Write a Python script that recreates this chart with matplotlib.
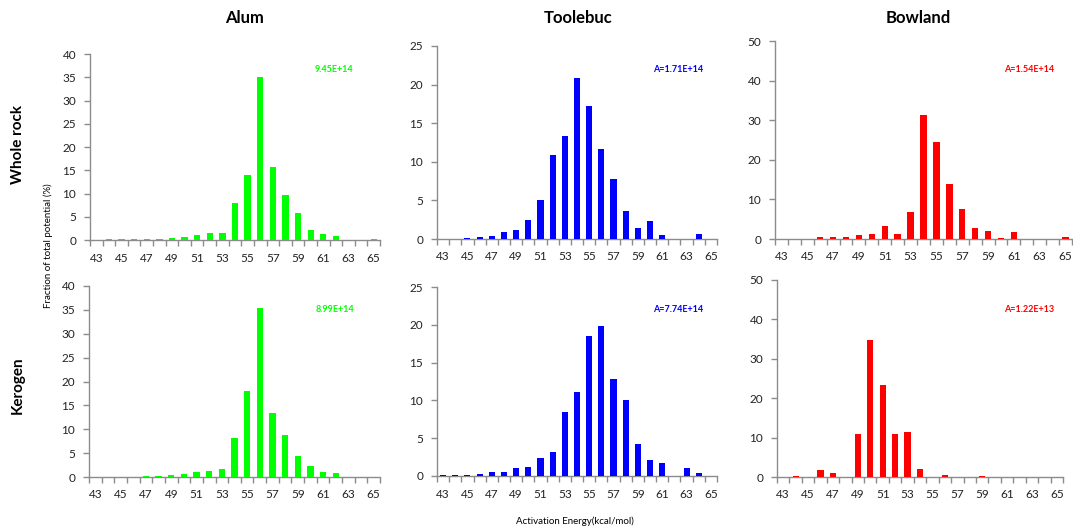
import matplotlib
matplotlib.use("Agg")
import matplotlib.pyplot as plt
import numpy as np

energies = list(range(43, 66))
tick_labels = [str(e) if (e - 43) % 2 == 0 else "" for e in energies]

alum_whole = [0, 0.2, 0.2, 0.2, 0.2, 0.2, 0.5, 0.7, 1.0, 1.4, 1.4, 8.0, 14.0, 35.0,
              15.8, 9.7, 5.7, 2.2, 1.2, 0.9, 0, 0, 0.2]
toolebuc_whole = [0, 0, 0.15, 0.3, 0.45, 0.95, 1.2, 2.5, 5.1, 10.9, 13.3, 20.8, 17.2,
                  11.6, 7.8, 3.6, 1.4, 2.3, 0.5, 0, 0, 0.7, 0]
bowland_whole = [0, 0, 0, 0.6, 0.6, 0.6, 0.9, 1.2, 3.2, 1.2, 6.7, 31.2, 24.4, 13.8,
                 7.7, 2.9, 1.9, 0.3, 1.7, 0, 0, 0, 0.6]
alum_kerogen = [0, 0, 0, 0, 0.2, 0.2, 0.5, 0.7, 1.0, 1.2, 1.6, 8.1, 18.1, 35.4,
                13.5, 8.7, 4.5, 2.4, 1.1, 0.9, 0, 0, 0]
toolebuc_kerogen = [0.1, 0.1, 0.1, 0.25, 0.5, 0.5, 1.0, 1.2, 2.4, 3.2, 8.5, 11.1, 18.5,
                    19.9, 12.8, 10.1, 4.2, 2.1, 1.7, 0, 1.0, 0.4, 0]
bowland_kerogen = [0, 0.3, 0, 1.8, 1.1, 0, 10.9, 34.7, 23.4, 10.9, 11.4, 2.1, 0, 0.6,
                   0, 0, 0.3, 0, 0, 0, 0, 0, 0]

columns = ["Alum", "Toolebuc", "Bowland"]
rows = ["Whole rock", "Kerogen"]
annotations = [["9.45E+14", "A=1.71E+14", "A=1.54E+14"],
               ["8.99E+14", "A=7.74E+14", "A=1.22E+13"]]
data = [[alum_whole, toolebuc_whole, bowland_whole],
        [alum_kerogen, toolebuc_kerogen, bowland_kerogen]]
colors = ["#00FF00", "#0000FF", "#FF0000"]
ymax = [40, 25, 50]
ystep = [5, 5, 10]

W, H = 1073, 531
fig = plt.figure(figsize=(W / 100, H / 100), dpi=100)

# pixel boxes: left, right, top, bottom
boxes = [[(90, 380, 54, 240), (437, 717, 46, 239), (775, 1072, 41, 239)],
         [(89, 380, 286, 477), (437, 717, 287, 476), (777, 1063, 280, 477)]]
annot_xy = [[(334, 70), (678, 70), (1029, 70)],
            [(335, 310), (678, 310), (1029, 310)]]

font = "Lato"
gray = "#8c8c8c"
x = np.arange(len(energies))
for r in range(2):
    for c in range(3):
        l, rr, t, b = boxes[r][c]
        ax = fig.add_axes([l / W, 1 - b / H, (rr - l) / W, (b - t) / H])
        ax.bar(x, data[r][c], width=0.5, color=colors[c], zorder=3)
        ax.set_xlim(-0.5, len(energies) - 0.5)
        ax.set_ylim(0, ymax[c])
        ax.set_yticks(np.arange(0, ymax[c] + 0.1, ystep[c]))
        ax.set_xticks(x[::2])
        ax.set_xticklabels(tick_labels[::2])
        ax.set_xticks(np.arange(-0.5, len(energies), 1), minor=True)
        ax.tick_params(axis="x", which="major", length=0, pad=9, labelsize=8.5,
                       labelcolor="#222222")
        ax.tick_params(axis="x", which="minor", length=4, color=gray, width=1)
        ax.tick_params(axis="y", length=4, color=gray, width=1, pad=6, labelsize=8.5,
                       labelcolor="#222222")
        for lab in ax.get_xticklabels() + ax.get_yticklabels():
            lab.set_family(font)
        for s in ["top", "right"]:
            ax.spines[s].set_visible(False)
        for s in ["left", "bottom"]:
            ax.spines[s].set_color(gray)
            ax.spines[s].set_linewidth(1)
        ax_x, ax_y = annot_xy[r][c]
        fig.text(ax_x / W, 1 - ax_y / H, annotations[r][c], color=colors[c],
                 fontsize=6.5, fontweight="bold", ha="center", va="center", family=font)

title_x = [245, 578, 918]
for c in range(3):
    fig.text(title_x[c] / W, 1 - 18 / H, columns[c], fontsize=12, fontweight="bold",
             ha="center", va="center", family=font)
row_y = [145, 385]
for r in range(2):
    fig.text(18 / W, 1 - row_y[r] / H, rows[r], fontsize=11, fontweight="bold",
             ha="center", va="center", rotation=90, family=font)
fig.text(48 / W, 1 - 246 / H, "Fraction of total potential (%)", fontsize=7,
         ha="center", va="center", rotation=90, family=font)
fig.text(575 / W, 1 - 521 / H, "Activation Energy(kcal/mol)", fontsize=7,
         ha="center", va="center", family=font)

fig.savefig("out.png", dpi=100)
